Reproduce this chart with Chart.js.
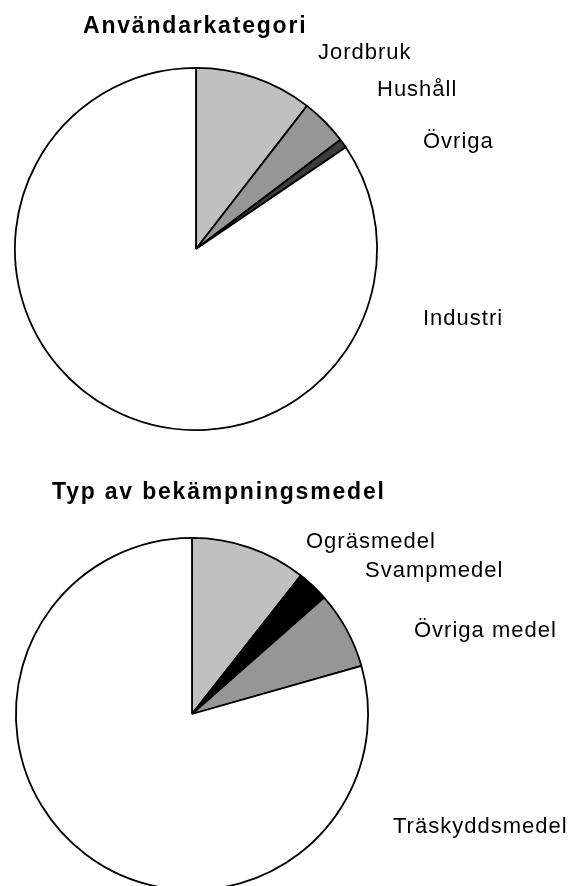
<!DOCTYPE html>
<html>
<head>
<meta charset="utf-8">
<script src="https://cdn.jsdelivr.net/npm/chart.js@4/dist/chart.umd.min.js"></script>
<style>
  html, body { margin: 0; padding: 0; background: #fff; overflow: hidden; }
  canvas { display: block; }
</style>
</head>
<body>
<canvas id="pieAnvandare" width="576" height="443"></canvas>
<canvas id="pieTyp" width="576" height="460"></canvas>
<script>
// Användarkategori (andel, %)
const kategorier = ['Jordbruk', 'Hushåll', 'Övriga', 'Industri'];
const andelKategori = [10.5, 4.2, 0.8, 84.5];
const fargerKategori = ['#c0c0c0', '#969696', '#3c3c3c', '#ffffff'];

// Typ av bekämpningsmedel (andel, %)
const typer = ['Ogräsmedel', 'Svampmedel', 'Övriga medel', 'Träskyddsmedel'];
const andelTyp = [10.6, 2.9, 7.1, 79.4];
const fargerTyp = ['#c0c0c0', '#000000', '#969696', '#ffffff'];

const typsnitt = '"Liberation Sans", Arial, sans-serif';

// titel och etiketter ritas relativt tårtans mittpunkt
const etikettPlugin = {
    id: 'etiketter',
    afterDraw(chart, args, opts) {
        const bit = chart.getDatasetMeta(0).data[0];
        const cx = bit.x, cy = bit.y;
        const ctx = chart.ctx;
        ctx.save();
        ctx.fillStyle = '#000';
        ctx.textAlign = 'left';
        ctx.textBaseline = 'alphabetic';
        ctx.font = 'bold 23px ' + typsnitt;
        ctx.letterSpacing = '1.8px';
        ctx.fillText(opts.titel, cx + opts.titelPos[0], cy + opts.titelPos[1]);
        ctx.font = '22px ' + typsnitt;
        ctx.letterSpacing = '1px';
        chart.data.labels.forEach((lab, i) => {
            const p = opts.pos[i];
            ctx.fillText(lab, cx + p[0], cy + p[1]);
        });
        ctx.restore();
    }
};

function skapaTarta(id, etiketter, varden, farger, padding, titel, titelPos, pos) {
    const ctx = document.getElementById(id).getContext('2d');
    return new Chart(ctx, {
        type: 'pie',
        data: {
            labels: etiketter,
            datasets: [{
                data: varden,
                backgroundColor: farger,
                borderColor: '#000',
                borderWidth: 1.8
            }]
        },
        options: {
            responsive: false,
            animation: false,
            devicePixelRatio: 1,
            layout: { padding: padding },
            plugins: {
                legend: { display: false },
                tooltip: { enabled: false },
                etiketter: { titel: titel, titelPos: titelPos, pos: pos }
            }
        },
        plugins: [etikettPlugin]
    });
}

skapaTarta('pieAnvandare', kategorier, andelKategori, fargerKategori,
    { left: 14, right: 198, top: 67, bottom: 12 },
    'Användarkategori', [-113, -216],
    [[122, -190], [181, -153], [227, -101], [227, 76]]);

skapaTarta('pieTyp', typer, andelTyp, fargerTyp,
    { left: 15, right: 207, top: 94, bottom: 12 },
    'Typ av bekämpningsmedel', [-140, -215],
    [[114, -166], [173, -137], [222, -77], [201, 119]]);
</script>
</body>
</html>
